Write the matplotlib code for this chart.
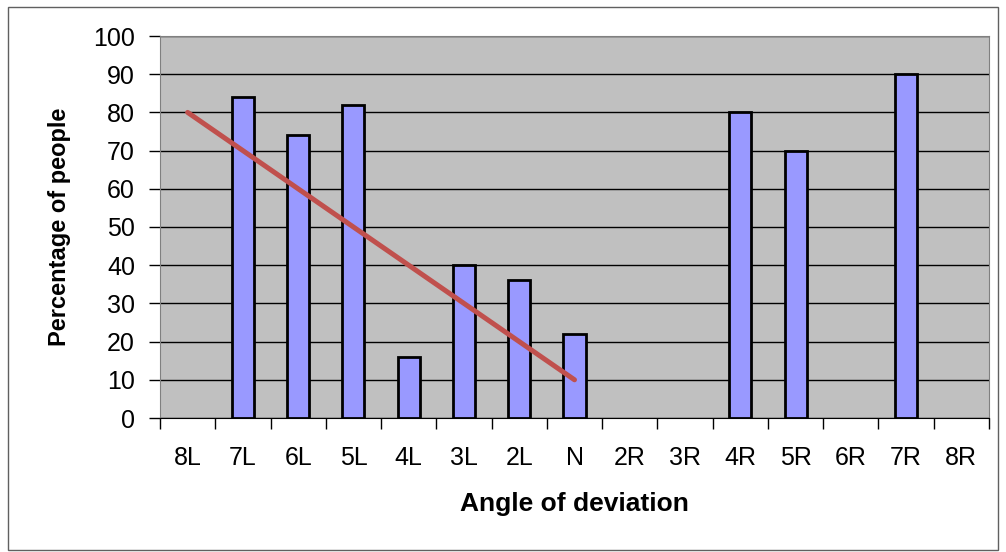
import matplotlib.pyplot as plt
import numpy as np
from matplotlib.patches import Rectangle

# data
angles = ['8L', '7L', '6L', '5L', '4L', '3L', '2L', 'N', '2R', '3R', '4R', '5R', '6R', '7R', '8R']
percent = [0, 84, 74, 82, 16, 40, 36, 22, 0, 0, 80, 70, 0, 90, 0]
trend_ends = ['8L', 'N']
trend_vals = [80, 10]

plt.rcParams['font.family'] = ['Liberation Sans', 'DejaVu Sans']

fig = plt.figure(figsize=(10.06, 5.52), dpi=100)
ax = fig.add_axes([160/1006, 134/552, 829/1006, 382/552])
ax.set_facecolor('#C0C0C0')

x = np.arange(len(angles))
vals = np.array(percent)
has = vals > 0  # empty categories get no bar outline
ax.bar(x[has], vals[has], width=0.4, color='#9999FF', edgecolor='black', linewidth=2, zorder=3)

# trend line between the two named categories
tx = [angles.index(a) for a in trend_ends]
ax.plot(tx, trend_vals, color='#C0504D', linewidth=3.6, solid_capstyle='round', zorder=4)

ax.set_xlim(-0.5, len(angles) - 0.5)
ax.set_ylim(0, 100)
ax.set_yticks(np.arange(0, 101, 10))
ax.yaxis.grid(True, color='black', linewidth=1, zorder=1)
ax.set_axisbelow(True)

ax.set_xticks(x)
ax.set_xticklabels(angles)
ax.set_xticks(np.arange(-0.5, len(angles), 1), minor=True)
ax.tick_params(axis='x', which='major', length=0, pad=20, labelsize=18)
ax.tick_params(axis='x', which='minor', length=8, width=1, color='black', direction='out')
ax.tick_params(axis='y', length=8, width=1, direction='out', pad=10, labelsize=18)

for s in ['top', 'right']:
    ax.spines[s].set_color('#808080')
ax.spines['left'].set_color('#808080')
ax.spines['bottom'].set_color('black')

ax.set_xlabel('Angle of deviation', fontsize=19, fontweight='bold', labelpad=16)
ax.set_ylabel('Percentage of people', fontsize=17, fontweight='bold', labelpad=16)

# outer chart border
fig.patches.append(Rectangle((8/1006, 2/552), 990/1006, 543/552, transform=fig.transFigure,
                             fill=False, edgecolor='#606060', linewidth=1))

fig.savefig('out.png', dpi=100)
